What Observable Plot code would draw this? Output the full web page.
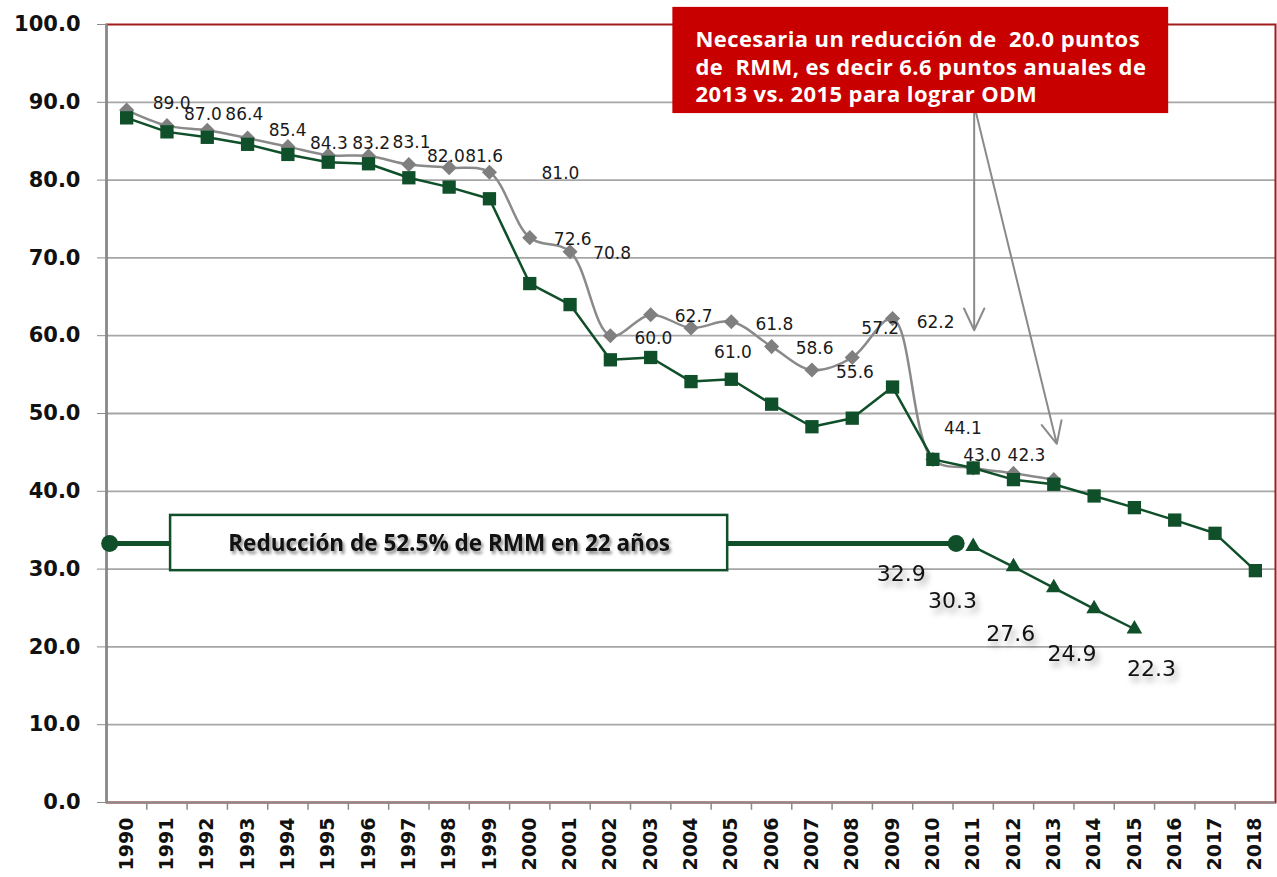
<!DOCTYPE html>
<html>
<head>
<meta charset="utf-8">
<script src="https://cdn.jsdelivr.net/npm/d3@7"></script>
<script src="https://cdn.jsdelivr.net/npm/@observablehq/plot@0.6"></script>
<style>
  html, body { margin: 0; padding: 0; background: #fff; }
  svg text { white-space: pre; }
</style>
</head>
<body>
<div id="chart"></div>
<script>
// ---------- DATA ----------
const years = ["1990","1991","1992","1993","1994","1995","1996","1997","1998","1999",
  "2000","2001","2002","2003","2004","2005","2006","2007","2008","2009",
  "2010","2011","2012","2013","2014","2015","2016","2017","2018"];
// grey series (1990–2013)
const grayValues = [89.0, 87.0, 86.4, 85.4, 84.3, 83.2, 83.1, 82.0, 81.6, 81.0,
  72.6, 70.8, 60.0, 62.7, 61.0, 61.8, 58.6, 55.6, 57.2, 62.2,
  44.1, 43.0, 42.3, 41.5];
// green series (1990–2018)
const greenValues = [88.0, 86.2, 85.5, 84.6, 83.3, 82.3, 82.1, 80.3, 79.1, 77.6,
  66.7, 64.0, 56.9, 57.2, 54.1, 54.4, 51.2, 48.3, 49.4, 53.4,
  44.1, 43.0, 41.5, 40.9, 39.4, 37.9, 36.3, 34.6, 29.8];
// target trajectory (2011–2015)
const targetYears = ["2011","2012","2013","2014","2015"];
const targetValues = [32.9, 30.3, 27.6, 24.9, 22.3];
const yTicks = [0, 10, 20, 30, 40, 50, 60, 70, 80, 90, 100];
const noteLines = ["Necesaria un reducción de  20.0 puntos",
  "de  RMM, es decir 6.6 puntos anuales de",
  "2013 vs. 2015 para lograr ODM"];
const legendText = "Reducción de 52.5% de RMM en 22 años";
const legendValue = 33.3;
const legendYears = ["1990", "2011"];

// ---------- BUILD ----------
const GREEN = "#0f4f29", GRAY = "#8a8a8a", GRID = "#a6a6a6", FRAME = "#a21c1c", RED = "#c90000";
const W = 1277, H = 877, ML = 106, MR = 2, MT = 24, MB = 75;
const bw = (W - ML - MR) / years.length;

const grayData = grayValues.map((v, i) => ({year: years[i], value: v}));
const greenData = greenValues.map((v, i) => ({year: years[i], value: v}));
const targetData = targetValues.map((v, i) => ({year: targetYears[i], value: v}));
const legendData = legendYears.map(y => ({year: y, value: legendValue}));

// label nudges (style only)
const grayNudge = [[45,-7],[36,-11],[37,-16],[40,-8],[41,-3],[43,-12],[43,-13],[37,-8],[35,-11],[71,1],
  [43,2],[42,2],[43,3],[43,2],[42,25],[43,3],[43,2],[43,3],[28,-29],[43,4],[30,-31],[9,-12],[13,-18]];
const targetNudge = [[-72,27],[-61,34],[-43,46],[-22,45],[17,40]];

function boxMark(x1Year, x1Frac, x2Year, x2Frac, yTop, yBottom, attrs) {
  return (index, scales) => {
    const b = scales.x.bandwidth ? scales.x.bandwidth() : bw;
    const xa = scales.x(x1Year) + x1Frac * b, xb = scales.x(x2Year) + x2Frac * b;
    const ya = scales.y(yTop), yb = scales.y(yBottom);
    const r = d3.create("svg:rect").attr("x", xa).attr("y", ya)
      .attr("width", xb - xa).attr("height", yb - ya);
    for (const [k, v] of Object.entries(attrs)) r.attr(k, v);
    return r.node();
  };
}

const labelMarks = grayData.slice(0, 23).map((d, i) =>
  Plot.text([d], {x: "year", y: "value", text: d => d.value.toFixed(1),
    dx: grayNudge[i][0], dy: grayNudge[i][1], fontSize: 17, fill: "#1a1a1a"}));
const targetLabelMarks = targetData.map((d, i) =>
  Plot.text([d], {x: "year", y: "value", text: d => d.value.toFixed(1),
    dx: targetNudge[i][0], dy: targetNudge[i][1], fontSize: 22, fill: "#111"}));

const chart = Plot.plot({
  width: W, height: H,
  marginTop: MT, marginBottom: MB, marginLeft: ML, marginRight: MR,
  style: {fontFamily: "DejaVu Sans", background: "#fff", overflow: "visible"},
  x: {type: "band", domain: years, padding: 0, round: false},
  y: {domain: [0, 100]},
  marks: [
    Plot.ruleY(yTicks.filter(t => t > 0 && t < 100), {stroke: GRID, strokeWidth: 1.8}),
    Plot.frame({stroke: FRAME, strokeWidth: 2}),
    Plot.ruleX([years[0]], {dx: -bw / 2, stroke: GRAY, strokeWidth: 2.2}),
    Plot.ruleY([0], {stroke: GRAY, strokeWidth: 2.2}),
    Plot.ruleX(years.slice(1), {dx: -bw / 2, y1: 0, y2: -1.0, stroke: GRAY, strokeWidth: 1.5}),
    Plot.axisY({ticks: yTicks, tickFormat: d => d.toFixed(1), fontSize: 21, fontWeight: "bold",
      tickSize: 9, tickPadding: 17, stroke: GRAY, fill: "#111", label: null}),
    Plot.axisX({tickRotate: -90, tickSize: 0, tickPadding: 15, fontSize: 19, fontWeight: "bold",
      fill: "#111", label: null}),
    // grey series
    Plot.line(grayData, {x: "year", y: "value", stroke: GRAY, strokeWidth: 2.5, curve: "catmull-rom"}),
    Plot.dot(grayData, {x: "year", y: "value", symbol: "diamond2", r: 6.8, fill: "#7f7f7f", stroke: "none"}),
    // green series
    Plot.line(greenData, {x: "year", y: "value", stroke: GREEN, strokeWidth: 2.5}),
    Plot.dot(greenData, {x: "year", y: "value", symbol: "square", r: 7.5, fill: GREEN, stroke: "none"}),
    // target series
    Plot.line(targetData, {x: "year", y: "value", stroke: GREEN, strokeWidth: 2.5}),
    Plot.dot(targetData, {x: "year", y: "value", symbol: "triangle", r: 5.8, fill: GREEN, stroke: "none"}),
    // legend bar
    Plot.line(legendData, {x: "year", y: "value", stroke: GREEN, strokeWidth: 5, dx: -17}),
    Plot.dot(legendData, {x: "year", y: "value", r: 8.5, fill: GREEN, dx: -17}),
    boxMark("1991", 0.59, "2005", 0.41, 36.9, 29.8, {fill: "#fff", stroke: GREEN, "stroke-width": 2.5}),
    Plot.text([{year: "1998", value: legendValue, t: legendText}], {x: "year", y: "value", text: "t",
      fontSize: 22.5, fontWeight: "bold", fontFamily: "Open Sans", fill: "#111"}),
    // arrows
    Plot.arrow([{x1: "2011", y1: 88.6, x2: "2011", y2: 60.7}], {x1: "x1", y1: "y1", x2: "x2", y2: "y2",
      stroke: GRAY, strokeWidth: 2, headLength: 18, headAngle: 50, dx: 1}),
    Plot.arrow([{x1: "2011", y1: 88.6, x2: "2013", y2: 46.1}], {x1: "x1", y1: "y1", x2: "x2", y2: "y2",
      stroke: GRAY, strokeWidth: 2, headLength: 18, headAngle: 50, dx: 3}),
    // red note
    boxMark("2004", 0.05, "2016", 0.35, 102.2, 88.55, {fill: RED}),
    Plot.text([{year: "2004", value: 99.6, t: noteLines.join("\n")}], {x: "year", y: "value", text: "t",
      textAnchor: "start", lineAnchor: "top", dx: 4.5, lineHeight: 1.25,
      fontSize: 22, fontWeight: "bold", fontFamily: "Open Sans", fill: "#fff"}),
    ...labelMarks,
    ...targetLabelMarks
  ]
});

document.getElementById("chart").appendChild(chart);

// shadows / spacing
const targetSet = new Set(targetValues.map(v => v.toFixed(1)));
d3.select(chart).selectAll("text").filter(function() { return targetSet.has(this.textContent); })
  .style("filter", "drop-shadow(3px 5px 3px rgba(0,0,0,0.35))");
d3.select(chart).selectAll("text").filter(function() { return this.textContent === legendText; })
  .style("filter", "drop-shadow(2px 3px 1.5px rgba(0,0,0,0.45))");
d3.select(chart).selectAll("text").filter(function() { return this.textContent.startsWith("Necesaria"); })
  .style("letter-spacing", "0.4px");
</script>
</body>
</html>
